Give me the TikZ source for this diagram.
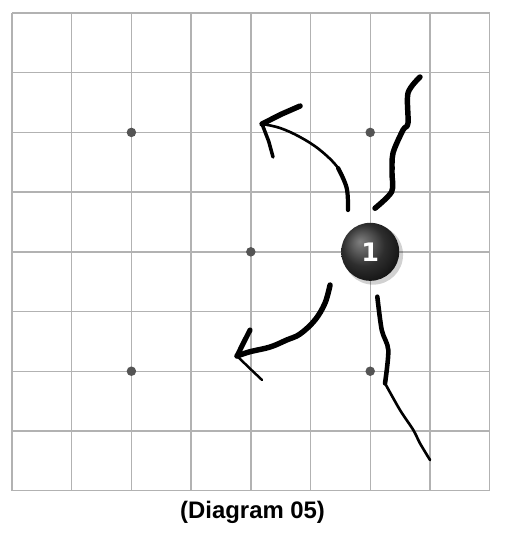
\documentclass[tikz,border=0pt]{standalone}
\usepackage{fontspec}
\setmainfont{Liberation Sans}
\newfontfamily\stonefont{DejaVu Sans}
\usetikzlibrary{positioning}

\pgfdeclareradialshading{stoneglow}{\pgfpoint{-9bp}{9bp}}{color(0bp)=(black!50); color(7bp)=(black!62); color(18bp)=(black!82); color(30bp)=(black!92); color(50bp)=(black)}

\begin{document}
\begin{tikzpicture}[x=1.194cm,y=1.194cm,
  gridline/.style={draw=gray!60,line width=0.8pt},
  starpoint/.style={circle,fill=black!67,inner sep=0pt,minimum size=0.19cm},
  inkline/.style={black,line cap=round,line join=round,line width=#1},
  inkline/.default=2.4pt,
  stonestyle/.style={circle,shading=stoneglow,minimum size=1.16cm,inner sep=0pt,
    text=white,font=\stonefont\bfseries\fontsize{14.5}{14.5}\selectfont}]
\useasboundingbox (-0.201,-0.827) rectangle (8.308,8.218);

% board
\foreach \i in {0,...,8} {
  \draw[gridline] (\i,0) -- (\i,8);
  \draw[gridline] (0,\i) -- (8,\i);
}
\foreach \p/\q in {2/6,6/6,4/4,2/2,6/2}
  \node[starpoint] (hoshi-\p-\q) at (\p,\q) {};

% stone
\fill[black,opacity=0.18] (6.05,3.95) circle (0.5);
\node[stonestyle] (stone1) at (6,4) {1};

% up and to the left
\draw[inkline=1.5pt] plot[smooth,tension=0.6] coordinates {(5.628,4.700) (5.606,5.069) (5.461,5.404) (5.159,5.705) (4.824,5.923) (4.489,6.074) (4.188,6.141)};
\draw[inkline=2.4pt] plot[smooth,tension=0.6] coordinates {(5.628,4.700) (5.606,5.069) (5.461,5.404)};
\draw[inkline=3.1pt] (4.188,6.141) -- (4.500,6.300) -- (4.824,6.442);
\draw[inkline=2pt] (4.188,6.141) -- (4.300,5.850) -- (4.372,5.588);

% up
\draw[inkline=3.1pt] plot[smooth,tension=0.5] coordinates {(6.080,4.729) (6.360,5.007) (6.365,5.320) (6.382,5.655) (6.549,6.040) (6.633,6.157) (6.633,6.660) (6.834,6.928)};

% down and to the left
\draw[inkline=3.1pt] plot[smooth,tension=0.6] coordinates {(5.327,3.444) (5.243,3.142) (5.075,2.858) (4.824,2.623) (4.601,2.523) (4.322,2.405) (3.987,2.327) (3.769,2.255)};
\draw[inkline=2.9pt] (3.769,2.255) -- (3.880,2.480) -- (3.987,2.690);
\draw[inkline=1.4pt] (3.769,2.255) -- (3.980,2.050) -- (4.188,1.853);

% down
\draw[inkline=2.6pt] plot[smooth,tension=0.5] coordinates {(6.119,3.248) (6.193,2.690) (6.303,2.355) (6.248,1.797)};
\draw[inkline=1.5pt] plot[smooth,tension=0.5] coordinates {(6.248,1.797) (6.499,1.350) (6.722,1.015) (6.834,0.792) (7.002,0.513)};

\node[font=\bfseries\fontsize{13.6}{13.6}\selectfont] (caption) at (4.03,-0.37) {(Diagram 05)};
\end{tikzpicture}
\end{document}
